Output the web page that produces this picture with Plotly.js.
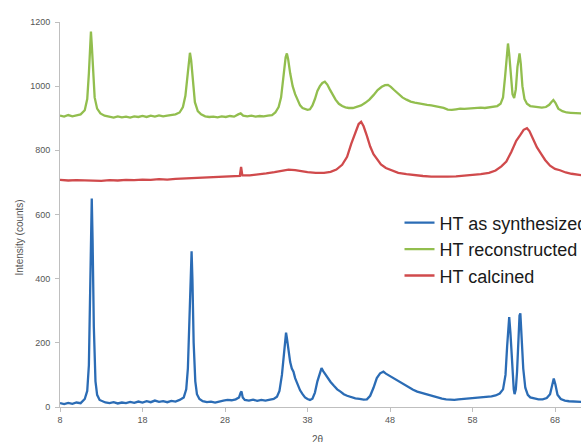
<!DOCTYPE html>
<html>
<head>
<meta charset="utf-8">
<script src="https://cdn.plot.ly/plotly-3.0.1.min.js"></script>
<style>
html, body { margin: 0; padding: 0; overflow: hidden; background: #fff; }
#chart { width: 620px; height: 442px; }
</style>
</head>
<body>
<div id="chart"></div>
<script>
// Series names (legend)
const seriesNames = ["HT as synthesized", "HT reconstructed", "HT calcined"];

// HT as synthesized (blue)
const xSynth = [8.0,8.5,9.0,9.5,10.0,10.5,11.0,11.3,11.5,11.65,11.8,11.85,11.95,12.1,12.3,12.5,12.8,13.2,13.5,14.0,14.5,15.0,15.5,16.0,16.5,17.0,17.5,18.0,18.5,19.0,19.5,20.0,20.5,21.0,21.5,22.0,22.5,23.0,23.3,23.5,23.7,23.85,23.95,24.05,24.2,24.4,24.6,24.9,25.3,25.8,26.3,26.8,27.3,27.8,28.3,28.8,29.3,29.7,29.9,30.0,30.15,30.4,30.9,31.4,31.9,32.4,32.9,33.4,33.9,34.3,34.6,34.9,35.1,35.3,35.4,35.5,35.7,35.9,36.1,36.3,36.5,36.8,37.1,37.4,37.7,38.0,38.3,38.6,38.9,39.2,39.5,39.7,39.9,40.2,40.5,40.8,41.2,41.6,42.0,42.4,42.8,43.3,43.8,44.3,44.8,45.2,45.6,46.0,46.4,46.8,47.2,47.5,47.9,48.3,48.8,49.3,49.8,50.3,50.8,51.3,51.8,52.3,52.8,53.3,53.8,54.3,54.8,55.3,55.8,56.3,56.8,57.3,57.8,58.3,58.8,59.3,59.8,60.3,60.8,61.3,61.7,62.0,62.2,62.35,62.45,62.6,62.8,63.0,63.1,63.25,63.4,63.55,63.7,63.8,63.95,64.15,64.4,64.7,65.0,65.5,66.0,66.5,67.0,67.4,67.65,67.85,68.05,68.3,68.7,69.2,69.7,70.2,70.7,71.3,72.0];
const ySynth = [12,9,13,10,14,12,25,50,130,330,600,650,520,250,80,38,22,16,14,12,15,11,14,12,16,13,17,14,18,15,20,16,18,15,19,17,22,30,55,120,300,460,485,400,200,80,40,25,18,15,17,14,18,20,22,21,24,30,45,48,30,22,20,23,19,22,20,23,25,32,50,100,160,220,232,215,175,140,120,110,90,70,52,40,30,25,22,26,45,80,110,121,112,100,88,78,66,55,48,40,35,30,27,25,23,24,35,60,90,105,110,104,98,90,82,75,68,60,54,48,44,40,36,32,28,26,24,23,22,24,25,26,27,28,30,30,31,33,36,42,55,100,190,265,280,230,120,55,40,55,110,220,285,292,230,120,60,38,30,26,24,24,28,40,70,89,70,38,25,20,18,17,16,15,15];

// HT reconstructed (green)
const xRecon = [8.0,8.5,9.0,9.5,10.0,10.5,11.0,11.3,11.5,11.65,11.75,11.85,12.0,12.2,12.5,12.9,13.4,14.0,14.5,15.0,15.5,16.0,16.5,17.0,17.5,18.0,18.5,19.0,19.5,20.0,20.5,21.0,21.5,22.0,22.5,22.9,23.2,23.45,23.65,23.75,23.9,24.1,24.35,24.7,25.1,25.6,26.1,26.6,27.1,27.6,28.1,28.6,29.1,29.6,29.9,30.2,30.7,31.2,31.7,32.2,32.7,33.2,33.7,34.1,34.5,34.8,35.1,35.35,35.5,35.65,35.9,36.2,36.5,36.8,37.1,37.4,37.7,38.0,38.3,38.6,38.9,39.2,39.5,39.8,40.1,40.4,40.7,41.0,41.4,41.8,42.2,42.6,43.0,43.5,44.0,44.5,45.0,45.5,46.0,46.5,47.0,47.4,47.75,48.1,48.5,49.0,49.5,50.0,50.5,51.0,51.5,52.0,52.5,53.0,53.5,54.0,54.5,55.0,55.5,56.0,56.5,57.0,57.5,58.0,58.5,59.0,59.5,60.0,60.5,61.0,61.4,61.7,61.95,62.15,62.3,62.45,62.65,62.85,63.05,63.25,63.45,63.6,63.7,63.85,64.05,64.3,64.6,65.0,65.4,65.9,66.4,66.9,67.3,67.55,67.8,68.05,68.4,68.9,69.4,69.9,70.4,71.3,72.0];
const yRecon = [908,905,910,906,909,912,925,960,1040,1130,1170,1130,1040,965,930,915,908,905,902,906,903,905,902,906,904,907,904,908,905,909,906,908,910,912,918,935,970,1040,1095,1104,1080,1010,950,922,912,906,904,905,903,906,904,907,905,912,915,908,906,908,905,907,906,908,910,918,935,965,1030,1090,1102,1085,1040,1000,975,955,940,932,928,926,928,940,960,985,1000,1010,1014,1005,990,975,958,945,938,934,932,932,935,940,948,958,972,988,998,1003,1004,998,988,975,965,958,952,949,946,944,942,940,938,935,932,927,926,928,930,929,930,932,931,933,932,934,935,938,945,965,1030,1100,1133,1100,1020,975,963,990,1060,1095,1102,1070,1000,960,945,938,936,934,933,935,942,950,957,948,930,922,918,917,916,915,914];

// HT calcined (red)
const xCalc = [8,9,10,11,12,13,14,15,16,17,18,19,20,21,22,23,24,25,26,27,28,29,29.8,29.95,30.1,31,32,33,34,35,35.7,36.5,37.2,38,39,40,40.8,41.5,42.2,42.8,43.3,43.8,44.2,44.5,44.8,45.2,45.6,46.0,46.4,46.9,47.5,48.2,49,50,51,52,53,54,55,56,57,58,59,60,60.8,61.5,62.1,62.7,63.3,63.8,64.2,64.6,64.9,65.3,65.8,66.3,66.8,67.4,68,68.6,69.3,70,70.7,71.3,72];
const yCalc = [708,706,707,706,707,705,707,706,708,707,709,708,710,709,711,712,713,714,715,716,717,718,720,748,722,722,724,728,732,737,740,738,735,732,730,730,733,740,755,780,820,858,882,889,875,845,812,788,772,756,745,737,730,726,722,720,718,717,718,719,721,723,726,730,737,750,765,795,830,848,864,869,860,838,810,790,770,752,742,738,731,727,724,722,721];

const lineW = 2.3;
const traces = [
  {x: xSynth, y: ySynth, name: seriesNames[0], mode: "lines", line: {color: "#2B6CB5", width: lineW}, legendgroup: "a"},
  {x: xRecon, y: yRecon, name: seriesNames[1], mode: "lines", line: {color: "#92BE4E", width: lineW}, legendgroup: "b"},
  {x: xCalc, y: yCalc, name: seriesNames[2], mode: "lines", line: {color: "#D04A4C", width: lineW}, legendgroup: "c"}
];

const layout = {
  width: 620, height: 442,
  margin: {l: 60, r: 32, t: 22, b: 35},
  paper_bgcolor: "#fff", plot_bgcolor: "#fff",
  font: {family: "Liberation Sans, Arial, sans-serif", color: "#444"},
  showlegend: true,
  legend: {
    x: 0.643, y: 0.526, xanchor: "left", yanchor: "top",
    bgcolor: "rgba(0,0,0,0)",
    font: {size: 18, color: "#1a1a1a", family: "Liberation Sans, Arial, sans-serif"},
    traceorder: "grouped", tracegroupgap: 0
  },
  xaxis: {
    range: [8, 72], tickvals: [8,18,28,38,48,58,68], ticktext: ["8","18","28","38","48","58","68"],
    showgrid: false, zeroline: false, showline: true, linecolor: "#bfbfbf", linewidth: 1,
    ticks: "outside", ticklen: 4, tickcolor: "#bfbfbf", tickfont: {size: 9, color: "#555"}
  },
  yaxis: {
    range: [0, 1200], tickvals: [0,200,400,600,800,1000,1200],
    showgrid: false, zeroline: false, showline: true, linecolor: "#bfbfbf", linewidth: 1,
    ticks: "outside", ticklen: 4, tickcolor: "#bfbfbf", tickfont: {size: 9, color: "#555"},
    ticklabelstandoff: 3
  },
  annotations: [
    {text: "Intensity (counts)", xref: "paper", yref: "paper", x: -0.076, y: 0.44,
     xanchor: "center", yanchor: "middle",
     textangle: -90, showarrow: false, font: {size: 10, color: "#555"}},
    {text: "2θ", xref: "x", yref: "paper", x: 39.3, y: -0.085, yanchor: "middle",
     showarrow: false, font: {size: 10, color: "#555"}}
  ]
};

Plotly.newPlot("chart", traces, layout, {displayModeBar: false, staticPlot: true});
</script>
</body>
</html>
